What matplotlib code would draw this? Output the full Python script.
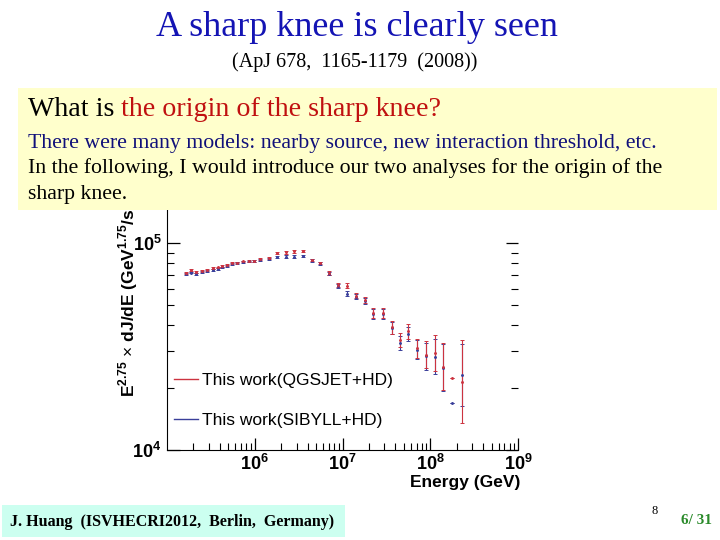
import matplotlib
matplotlib.use('Agg')
import matplotlib.pyplot as plt
import numpy as np
from matplotlib.patches import Rectangle
from matplotlib.lines import Line2D

plt.rcParams['mathtext.fontset'] = 'custom'
plt.rcParams['mathtext.rm'] = 'Liberation Sans'
plt.rcParams['mathtext.bf'] = 'Liberation Sans:bold'

# energy bins (GeV)
energy = [1.66e5, 1.86e5, 2.14e5, 2.51e5, 2.82e5, 3.31e5, 3.80e5, 4.27e5,
          4.79e5, 5.50e5, 6.31e5, 7.41e5, 8.51e5, 9.77e5, 1.15e6, 1.45e6,
          1.78e6, 2.24e6, 2.82e6, 3.55e6, 4.47e6, 5.50e6, 7.08e6, 8.91e6,
          1.12e7, 1.41e7, 1.78e7, 2.24e7, 2.88e7, 3.63e7, 4.47e7, 5.62e7,
          7.08e7, 8.91e7, 1.12e8, 1.41e8, 1.78e8, 2.29e8]

# E^2.75 x dJ/dE, QGSJET+HD
flux_qgs = [71600, 74300, 72500, 73500, 74300, 75500, 76300, 77600,
            78500, 80000, 80500, 81500, 82000, 82200, 83700, 84500,
            89500, 90200, 91200, 91800, 83000, 80000, 71600, 62800,
            62300, 55600, 53200, 45800, 45800, 39100, 34000, 37400,
            31000, 28800, 29400, 25300, 22200, 21400]

# E^2.75 x dJ/dE, SIBYLL+HD
flux_sib = [71000, 72000, 71000, 72500, 73500, 74000, 74800, 76300,
            77500, 79000, 80000, 81000, 81500, 82000, 83000, 84000,
            85500, 86000, 86000, 86800, 82500, 79500, 71000, 62300,
            56800, 55000, 52600, 45500, 45300, 38800, 32900, 36300,
            30500, 28400, 28200, 25000, 16800, 23000]

# half error bars in log10 units
err_qgs = [0.004] * 16 + [0.006] * 6 + [0.008, 0.01, 0.012, 0.012, 0.015,
           0.025, 0.025, 0.03, 0.035, 0.035, 0.045, 0.065, 0.085, 0.115,
           0.0, 0.2]
err_sib = [0.004] * 16 + [0.006] * 6 + [0.008, 0.01, 0.012, 0.012, 0.015,
           0.025, 0.025, 0.03, 0.035, 0.035, 0.045, 0.065, 0.085, 0.115,
           0.0, 0.15]

labels = ['This work(QGSJET+HD)', 'This work(SIBYLL+HD)']
colors = ['#cc3340', '#3a3f9a']


def asym(y, d):
    y = np.array(y, dtype=float)
    d = np.array(d, dtype=float)
    return [y - y / 10 ** d, y * 10 ** d - y]


fig = plt.figure(figsize=(7.2, 5.4), dpi=100)
ax = fig.add_axes([0.232, 0.1667, 0.4875, 0.481])

for flux, err, c in [(flux_sib, err_sib, colors[1]), (flux_qgs, err_qgs, colors[0])]:
    ax.errorbar(energy, flux, yerr=asym(flux, err), fmt='.', ms=2.2,
                color=c, ecolor=c, elinewidth=0.8, capsize=1.5, capthick=0.7)

ax.set_xscale('log')
ax.set_yscale('log')
ax.set_xlim(1e5, 1e9)
ax.set_ylim(1e4, 1.8e5)

ax.set_xticks([1e6, 1e7, 1e8, 1e9])
ax.set_xticklabels([r'$\mathbf{10^{6}}$', r'$\mathbf{10^{7}}$',
                    r'$\mathbf{10^{8}}$', r'$\mathbf{10^{9}}$'], fontsize=13)
ax.set_yticks([1e4, 1e5])
ax.set_yticklabels([r'$\mathbf{10^{4}}$', r'$\mathbf{10^{5}}$'], fontsize=13)

ax.spines['top'].set_visible(False)
ax.spines['right'].set_visible(False)
ax.tick_params(which='both', direction='in', right=True, top=False)
ax.tick_params(which='major', length=9, width=0.9)
ax.tick_params(which='minor', length=5, width=0.8)
ax.tick_params(axis='x', pad=3)
ax.tick_params(axis='y', pad=4)

handles = [Line2D([], [], color=c, lw=1.0) for c in colors]
ax.legend(handles, labels, loc='lower left', bbox_to_anchor=(0.0, 0.058),
          frameon=False, handlelength=1.4, handletextpad=0.2,
          labelspacing=1.45, borderaxespad=0,
          prop={'family': 'Liberation Sans', 'size': 12.5})

ylab = fig.text(128 / 720, 1 - 397 / 540,
                r'E$^{\mathbf{2.75}}$ $\times$ dJ/dE (GeV$^{\mathbf{1.75}}$/sr/m$^{\mathbf{2}}$/s)',
                rotation=90, ha='center', va='bottom', fontsize=12.5,
                fontweight='bold', family='Liberation Sans')
fig.text(520 / 720, 1 - 482 / 540, 'Energy (GeV)', ha='right', va='center',
         fontsize=12.5, fontweight='bold', family='Liberation Sans')

# slide decorations
fig.text(0.496, 1 - 28 / 540, 'A sharp knee is clearly seen', ha='center',
         va='center', fontsize=26, color='#1414b4', family='Liberation Serif')
fig.text(0.493, 1 - 62 / 540, '(ApJ 678,  1165-1179  (2008))', ha='center',
         va='center', fontsize=14.5, color='black', family='Liberation Serif')

box = Rectangle((18 / 720, 1 - 210 / 540), 699 / 720, 122 / 540,
                transform=fig.transFigure, facecolor='#ffffcc',
                edgecolor='none', zorder=5)
fig.add_artist(box)

t1 = fig.text(28 / 720, 1 - 116 / 540, 'What is ', fontsize=20.2,
              family='Liberation Serif', color='black', va='baseline', zorder=6)
fig.canvas.draw()
bb = t1.get_window_extent(renderer=fig.canvas.get_renderer())
fig.text(bb.x1 / 720, 1 - 116 / 540, 'the origin of the sharp knee?',
         fontsize=20.2, family='Liberation Serif', color='#c01010',
         va='baseline', zorder=6)
fig.text(28 / 720, 1 - 148 / 540,
         'There were many models: nearby source, new interaction threshold, etc.',
         fontsize=15.7, family='Liberation Serif', color='#10107a',
         va='baseline', zorder=6)
fig.text(28 / 720, 1 - 173 / 540,
         'In the following, I would introduce our two analyses for the origin of the',
         fontsize=15.7, family='Liberation Serif', color='black',
         va='baseline', zorder=6)
fig.text(28 / 720, 1 - 199 / 540, 'sharp knee.', fontsize=15.7,
         family='Liberation Serif', color='black', va='baseline', zorder=6)

foot = Rectangle((2 / 720, 1 - 537 / 540), 343 / 720, 32 / 540,
                 transform=fig.transFigure, facecolor='#ccfff0',
                 edgecolor='none', zorder=5)
fig.add_artist(foot)
fig.text(10 / 720, 1 - 522 / 540, 'J. Huang  (ISVHECRI2012,  Berlin,  Germany)',
         fontsize=11.5, fontweight='bold', family='Liberation Serif',
         va='center', ha='left', zorder=6)
fig.text(655 / 720, 1 - 511 / 540, '8', fontsize=9, family='Liberation Serif',
         ha='center', va='center')
fig.text(712 / 720, 1 - 521 / 540, '6/ 31', fontsize=11, fontweight='bold',
         family='Liberation Serif', color='#2a8a2a', ha='right', va='center')

fig.savefig('out.png', dpi=100)
